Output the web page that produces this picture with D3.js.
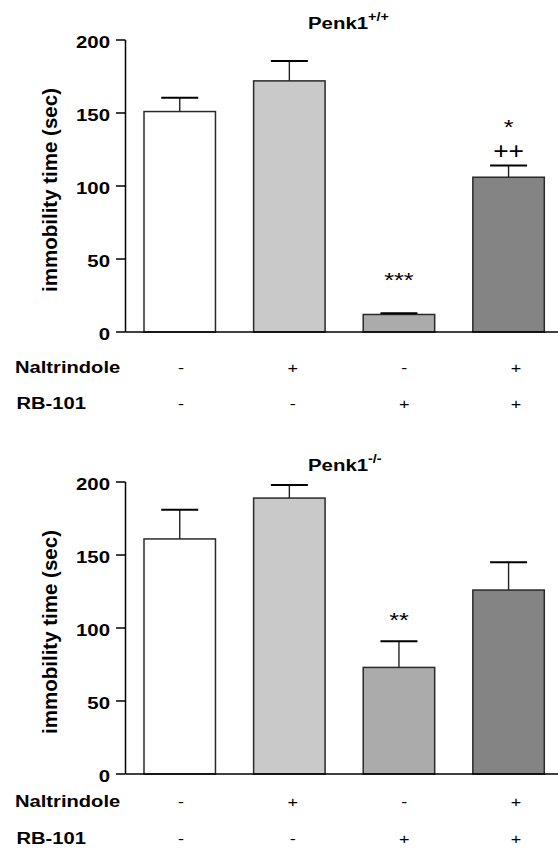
<!DOCTYPE html>
<html>
<head>
<meta charset="utf-8">
<script src="https://cdn.jsdelivr.net/npm/d3@7"></script>
<style>
  html, body { margin: 0; padding: 0; background: #fff; }
  svg { display: block; font-family: "Liberation Sans", Arial, Helvetica, sans-serif; }
</style>
</head>
<body>
<svg id="chart" width="558" height="848"></svg>
<script>
// ---------------- data ----------------
const groups = ["vehicle", "naltrindole", "rb101", "naltrindole+rb101"];
const naltrindoleSigns = ["-", "+", "-", "+"];
const rb101Signs = ["-", "-", "+", "+"];
const barColors = ["#ffffff", "#c9c9c9", "#ababab", "#848484"];
const yTicks = [0, 50, 100, 150, 200];

const wtMeans = [151, 172, 12, 106];
const wtErrors = [9.5, 13.6, 0.8, 8];
const wtStars = ["", "", "***", "*"];
const wtStarLevels = [null, null, 39, 144];
const wtPlus = ["", "", "", "++"];
const wtPlusLevels = [null, null, null, 124.5];

const koMeans = [161, 189, 73, 126];
const koErrors = [20, 9, 18, 19];
const koStars = ["", "", "**", ""];
const koStarLevels = [null, null, 109, null];
const koPlus = ["", "", "", ""];
const koPlusLevels = [null, null, null, null];

const panels = [
  { title: "Penk1", sup: "+/+", means: wtMeans, errors: wtErrors, stars: wtStars, starLevels: wtStarLevels, plus: wtPlus, plusLevels: wtPlusLevels },
  { title: "Penk1", sup: "-/-", means: koMeans, errors: koErrors, stars: koStars, starLevels: koStarLevels, plus: koPlus, plusLevels: koPlusLevels }
];

// ---------------- layout ----------------
const SX = 1.2;             // horizontal stretch of the original typography
const axisX = 125.5;
const plotTops = [40, 482];
const plotH = 292;
const rightEdge = 558;

const svg = d3.select("#chart");

const x = d3.scaleBand().domain(groups).range([144, 544.3]).paddingInner(0.348).paddingOuter(0);
const signX = d3.scalePoint().domain(groups).range([181, 516]);

function stretchedText(g, px, py, str, size, weight, anchor) {
  return g.append("text")
    .attr("transform", `translate(${px},${py}) scale(${SX},1)`)
    .attr("font-size", size)
    .attr("font-weight", weight)
    .attr("text-anchor", anchor)
    .attr("fill", "#000")
    .text(str);
}

panels.forEach((p, pi) => {
  const top = plotTops[pi];
  const bottom = top + plotH;
  const y = d3.scaleLinear().domain([0, 200]).range([bottom, top]);
  const g = svg.append("g");

  // title
  const t = g.append("text")
    .attr("transform", `translate(308,${top - 11}) scale(${SX},1)`)
    .attr("font-size", 17)
    .attr("font-weight", "bold")
    .attr("fill", "#000");
  t.append("tspan").text(p.title);
  t.append("tspan").attr("font-size", 12).attr("dy", -8).text(p.sup);

  // bars
  g.selectAll("rect.bar").data(p.means).join("rect")
    .attr("class", "bar")
    .attr("x", (d, i) => x(groups[i]))
    .attr("y", d => y(d))
    .attr("width", x.bandwidth())
    .attr("height", d => y(0) - y(d))
    .attr("fill", (d, i) => barColors[i])
    .attr("stroke", "#2a2a2a")
    .attr("stroke-width", 1.5);

  // error bars
  const capHalf = 18.5;
  p.means.forEach((m, i) => {
    const cx = x(groups[i]) + x.bandwidth() / 2;
    g.append("line")
      .attr("x1", cx).attr("x2", cx)
      .attr("y1", y(m)).attr("y2", y(m + p.errors[i]))
      .attr("stroke", "#222").attr("stroke-width", 1.4);
    g.append("line")
      .attr("x1", cx - capHalf).attr("x2", cx + capHalf)
      .attr("y1", y(m + p.errors[i])).attr("y2", y(m + p.errors[i]))
      .attr("stroke", "#000").attr("stroke-width", 2);
  });

  // significance marks
  p.stars.forEach((s, i) => {
    if (!s) return;
    const cx = x(groups[i]) + x.bandwidth() / 2;
    stretchedText(g, cx, y(p.starLevels[i]) + 12, s, 21, "normal", "middle");
  });
  p.plus.forEach((s, i) => {
    if (!s) return;
    const cx = x(groups[i]) + x.bandwidth() / 2;
    g.append("text")
      .attr("transform", `translate(${cx},${y(p.plusLevels[i]) + 8.5}) scale(1.1,1)`)
      .attr("font-size", 24)
      .attr("text-anchor", "middle")
      .attr("fill", "#000")
      .text(s);
  });

  // y axis
  g.append("line")
    .attr("x1", axisX).attr("x2", axisX)
    .attr("y1", y(200)).attr("y2", y(0))
    .attr("stroke", "#000").attr("stroke-width", 1.5);
  yTicks.forEach(v => {
    g.append("line")
      .attr("x1", axisX - 9.5).attr("x2", axisX)
      .attr("y1", y(v)).attr("y2", y(v))
      .attr("stroke", "#000").attr("stroke-width", 1.5);
    stretchedText(g, 110, y(v) + 8, String(v), 17, "bold", "end");
  });
  // x axis baseline
  g.append("line")
    .attr("x1", axisX).attr("x2", rightEdge)
    .attr("y1", y(0)).attr("y2", y(0))
    .attr("stroke", "#000").attr("stroke-width", 1.5);

  // y axis label
  g.append("text")
    .attr("transform", `translate(57,${(y(0) + y(200)) / 2 + 4}) rotate(-90)`)
    .attr("font-size", 20.5)
    .attr("font-weight", "bold")
    .attr("text-anchor", "middle")
    .attr("fill", "#000")
    .text("immobility time (sec)");

  // treatment rows
  const row1 = pi === 0 ? 372.5 : 806.5;
  const row2 = pi === 0 ? 408.5 : 844;
  stretchedText(g, 15, row1, "Naltrindole", 16.8, "bold", "start");
  stretchedText(g, 16.5, row2, "RB-101", 16.8, "bold", "start");
  naltrindoleSigns.forEach((s, i) => stretchedText(g, signX(groups[i]), row1, s, 15, "normal", "middle"));
  rb101Signs.forEach((s, i) => stretchedText(g, signX(groups[i]), row2, s, 15, "normal", "middle"));
});
</script>
</body>
</html>
